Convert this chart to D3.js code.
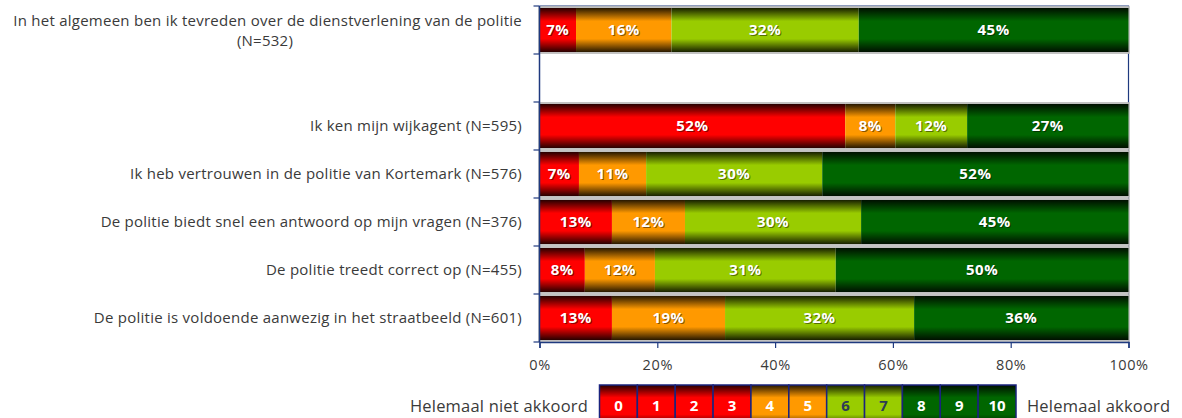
<!DOCTYPE html>
<html>
<head>
<meta charset="utf-8">
<script src="https://cdn.jsdelivr.net/npm/d3@7"></script>
<style>
  body { margin: 0; background: #fff; }
  svg { display: block; }
  text { font-family: "Open Sans", Lato, sans-serif; }
</style>
</head>
<body>
<div id="chart"></div>
<script>
// rows top to bottom; "" is the empty spacer row
const statements = [
  ["In het algemeen ben ik tevreden over de dienstverlening van de politie", "(N=532)"],
  [""],
  ["Ik ken mijn wijkagent (N=595)"],
  ["Ik heb vertrouwen in de politie van Kortemark (N=576)"],
  ["De politie biedt snel een antwoord op mijn vragen (N=376)"],
  ["De politie treedt correct op (N=455)"],
  ["De politie is voldoende aanwezig in het straatbeeld (N=601)"]
];

// shares as drawn (score groups 0-3, 4-5, 6-7, 8-10)
const shares = [
  [6.2, 16.2, 31.8, 45.8],
  null,
  [51.9, 8.5, 12.2, 27.4],
  [6.7, 11.4, 29.9, 52.0],
  [12.3, 12.4, 29.9, 45.4],
  [7.7, 11.9, 30.7, 49.7],
  [12.3, 19.2, 32.1, 36.4]
];

// labels as printed on the bars
const barLabels = [
  ["7%", "16%", "32%", "45%"],
  null,
  ["52%", "8%", "12%", "27%"],
  ["7%", "11%", "30%", "52%"],
  ["13%", "12%", "30%", "45%"],
  ["8%", "12%", "31%", "50%"],
  ["13%", "19%", "32%", "36%"]
];

const groupColors = ["#ff0000", "#ff9900", "#99cc00", "#006600"];
const xTicks = [0, 20, 40, 60, 80, 100];
const legendScores = [0, 1, 2, 3, 4, 5, 6, 7, 8, 9, 10];
const scoreGroup = [0, 0, 0, 0, 1, 1, 2, 2, 3, 3, 3];

const width = 1182, height = 418;
const plotLeft = 539.5, plotRight = 1128.5, plotTop = 6, plotBottom = 342;
const navy = "#1f3a7f";
const textColor = "#3a3a3a";

const svg = d3.select("#chart").append("svg")
  .attr("width", width)
  .attr("height", height);

const defs = svg.append("defs");
groupColors.forEach((c, i) => {
  const dark = d3.interpolateRgb(c, "#000")(0.85);
  const g = defs.append("linearGradient")
    .attr("id", "grad" + i)
    .attr("x1", 0).attr("y1", 0).attr("x2", 0).attr("y2", 1);
  g.append("stop").attr("offset", 0).attr("stop-color", dark);
  g.append("stop").attr("offset", 0.3).attr("stop-color", c);
  g.append("stop").attr("offset", 0.7).attr("stop-color", c);
  g.append("stop").attr("offset", 1).attr("stop-color", dark);
});

const x = d3.scaleLinear().domain([0, 100]).range([plotLeft, plotRight]);
const y = d3.scaleBand()
  .domain(d3.range(statements.length))
  .range([plotTop, plotBottom])
  .paddingInner(0.08)
  .paddingOuter(0.04);

// plot area border
svg.append("path")
  .attr("d", `M${plotLeft},${plotTop}H${plotRight}V${plotBottom}`)
  .attr("fill", "none")
  .attr("stroke", navy)
  .attr("stroke-width", 1.2);

// bars
const rows = svg.append("g").selectAll("g")
  .data(shares.map((s, i) => ({ s, i })).filter(d => d.s))
  .join("g");

rows.each(function(d) {
  let acc = 0;
  const segs = d.s.map((v, k) => {
    const seg = { x0: acc, x1: acc + v, k, label: barLabels[d.i][k] };
    acc += v;
    return seg;
  });
  const g = d3.select(this);
  const total = acc;
  g.append("rect")
    .attr("x", x(0) - 0.5)
    .attr("y", y(d.i) - 1)
    .attr("width", x(Math.min(total, 100)) - x(0) + 1)
    .attr("height", y.bandwidth() + 2)
    .attr("fill", "#fff")
    .attr("stroke", "#b8b8b8")
    .attr("stroke-width", 1.5);
  g.selectAll("rect.seg")
    .data(segs)
    .join("rect")
    .attr("class", "seg")
    .attr("x", s => x(s.x0))
    .attr("y", y(d.i))
    .attr("width", s => x(Math.min(s.x1, 100)) - x(s.x0))
    .attr("height", y.bandwidth())
    .attr("fill", s => `url(#grad${s.k})`);
  g.selectAll("text.shadow")
    .data(segs)
    .join("text")
    .attr("class", "shadow")
    .attr("x", s => x((s.x0 + Math.min(s.x1, 100)) / 2) + 1)
    .attr("y", y(d.i) + y.bandwidth() / 2 + 1)
    .attr("dy", "0.35em")
    .attr("text-anchor", "middle")
    .attr("font-size", 15)
    .attr("letter-spacing", 0.5)
    .attr("font-weight", "bold")
    .attr("fill", "#000")
    .attr("opacity", 0.45)
    .text(s => s.label);
  g.selectAll("text.lab")
    .data(segs)
    .join("text")
    .attr("class", "lab")
    .attr("x", s => x((s.x0 + Math.min(s.x1, 100)) / 2))
    .attr("y", y(d.i) + y.bandwidth() / 2)
    .attr("dy", "0.35em")
    .attr("text-anchor", "middle")
    .attr("font-size", 15)
    .attr("letter-spacing", 0.5)
    .attr("font-weight", "bold")
    .attr("fill", "#fff")
    .text(s => s.label);
});

// left axis with ticks at band boundaries
const step = (plotBottom - plotTop) / statements.length;
svg.append("line")
  .attr("x1", plotLeft).attr("x2", plotLeft)
  .attr("y1", plotTop).attr("y2", plotBottom)
  .attr("stroke", navy).attr("stroke-width", 1.5);
svg.append("g").selectAll("line")
  .data(d3.range(statements.length + 1))
  .join("line")
  .attr("x1", plotLeft - 6).attr("x2", plotLeft)
  .attr("y1", i => plotTop + i * step).attr("y2", i => plotTop + i * step)
  .attr("stroke", navy).attr("stroke-width", 1.2);

// category labels
svg.append("g").selectAll("text")
  .data(statements)
  .join("text")
  .attr("x", 522)
  .attr("y", (d, i) => y(i) + y.bandwidth() / 2)
  .attr("text-anchor", "end")
  .attr("font-size", 15)
  .attr("letter-spacing", 0.25)
  .attr("fill", textColor)
  .each(function(lines) {
    const t = d3.select(this);
    const n = lines.length;
    lines.forEach((ln, j) => {
      t.append("tspan")
        .attr("x", n > 1 && j > 0 ? 265 : 522)
        .attr("dy", j === 0 ? `${0.35 - (n - 1) * 0.6}em` : "1.3em")
        .attr("text-anchor", n > 1 && j > 0 ? "middle" : "end")
        .text(ln);
    });
  });

// bottom axis
const xAxis = svg.append("g")
  .attr("transform", `translate(0,${plotBottom})`)
  .call(d3.axisBottom(x).tickValues(xTicks).tickFormat(d => d + "%").tickSize(6).tickPadding(12));
xAxis.select(".domain").attr("stroke", navy).attr("stroke-width", 1.5);
xAxis.selectAll(".tick line").attr("stroke", navy).attr("stroke-width", 1.2);
xAxis.selectAll(".tick text")
  .attr("font-size", 14.5)
  .attr("letter-spacing", 0.6)
  .attr("font-family", "'Open Sans', sans-serif")
  .attr("fill", textColor);

// legend
const lx = d3.scaleBand().domain(legendScores).range([599.5, 1016]);
const legend = svg.append("g");
legend.selectAll("rect")
  .data(legendScores)
  .join("rect")
  .attr("x", d => lx(d))
  .attr("y", 385)
  .attr("width", lx.bandwidth())
  .attr("height", 42)
  .attr("fill", d => `url(#grad${scoreGroup[d]})`)
  .attr("stroke", "#1a237e")
  .attr("stroke-width", 1.5);
legend.selectAll("text")
  .data(legendScores)
  .join("text")
  .attr("x", d => lx(d) + lx.bandwidth() / 2)
  .attr("y", 406)
  .attr("dy", "0.35em")
  .attr("text-anchor", "middle")
  .attr("font-size", 15)
  .attr("font-weight", "bold")
  .attr("fill", d => scoreGroup[d] === 2 ? "#2e3b55" : "#fff")
  .text(d => d);
svg.append("text")
  .attr("x", 588).attr("y", 406).attr("dy", "0.35em")
  .attr("text-anchor", "end")
  .attr("font-size", 16.5)
  .attr("letter-spacing", 0.2)
  .attr("fill", textColor)
  .text("Helemaal niet akkoord");
svg.append("text")
  .attr("x", 1027).attr("y", 406).attr("dy", "0.35em")
  .attr("font-size", 16.5)
  .attr("letter-spacing", 0.2)
  .attr("fill", textColor)
  .text("Helemaal akkoord");
</script>
</body>
</html>
